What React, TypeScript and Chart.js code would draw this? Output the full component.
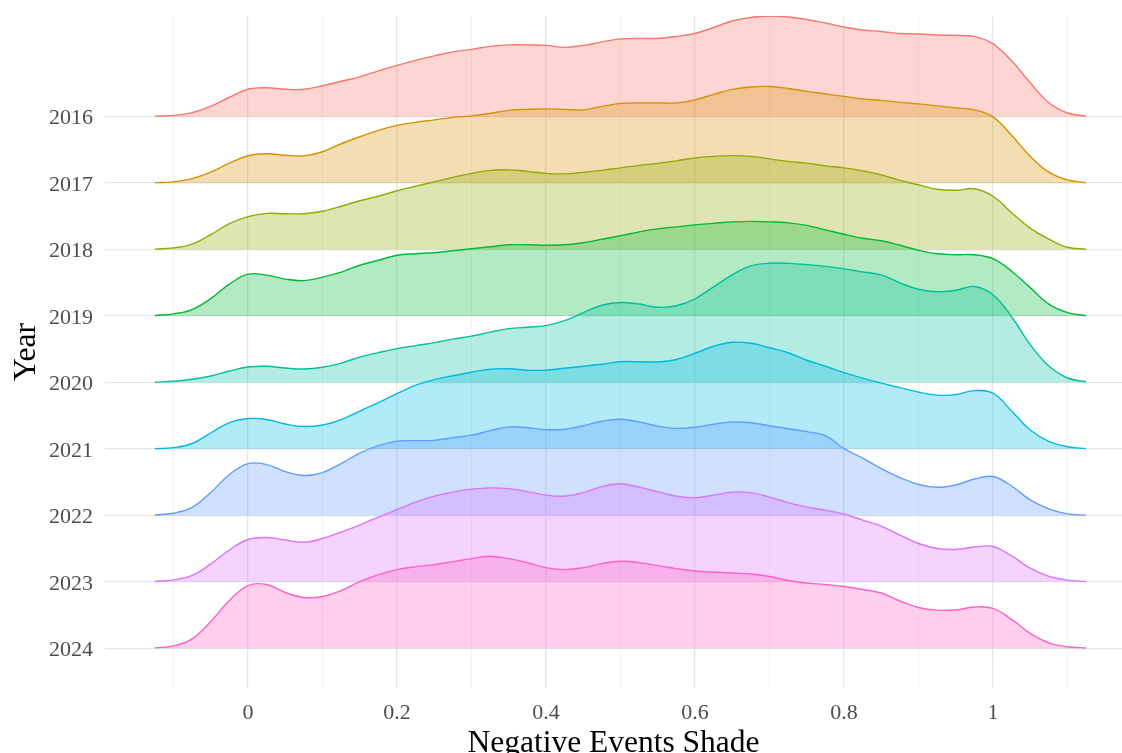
import React, { useEffect, useRef } from "react";
import { Chart, registerables } from "chart.js";

Chart.register(...registerables);

const YEARS = [2016, 2017, 2018, 2019, 2020, 2021, 2022, 2023, 2024];

const XS = [
  -0.125, -0.1, -0.075, -0.05, -0.025, 0, 0.025, 0.05, 0.075, 0.1,
  0.125, 0.15, 0.175, 0.2, 0.225, 0.25, 0.275, 0.3, 0.325, 0.35,
  0.375, 0.4, 0.425, 0.45, 0.475, 0.5, 0.525, 0.55, 0.575, 0.6,
  0.625, 0.65, 0.675, 0.7, 0.725, 0.75, 0.775, 0.8, 0.825, 0.85,
  0.875, 0.9, 0.925, 0.95, 0.975, 1.0, 1.025, 1.05, 1.075, 1.1, 1.125,
];

const D2016 = [
  0.005, 0.013, 0.04, 0.105, 0.195, 0.275, 0.29, 0.275, 0.275, 0.31,
  0.355, 0.4, 0.46, 0.515, 0.565, 0.61, 0.65, 0.675, 0.705, 0.72,
  0.72, 0.715, 0.695, 0.715, 0.75, 0.78, 0.785, 0.785, 0.805, 0.835,
  0.895, 0.96, 0.995, 1.01, 1.0, 0.975, 0.94, 0.9, 0.87, 0.855,
  0.835, 0.83, 0.82, 0.815, 0.805, 0.73, 0.56, 0.34, 0.14, 0.037, 0.005,
];
const D2017 = [
  0.005, 0.013, 0.045, 0.11, 0.2, 0.275, 0.295, 0.28, 0.275, 0.315,
  0.395, 0.465, 0.53, 0.58, 0.61, 0.635, 0.66, 0.675, 0.7, 0.73,
  0.74, 0.745, 0.74, 0.735, 0.77, 0.8, 0.805, 0.805, 0.805, 0.835,
  0.89, 0.94, 0.965, 0.97, 0.95, 0.92, 0.895, 0.87, 0.845, 0.83,
  0.81, 0.795, 0.775, 0.755, 0.735, 0.665, 0.48, 0.27, 0.11, 0.032, 0.005,
];
const D2018 = [
  0.005, 0.017, 0.055, 0.15, 0.26, 0.33, 0.363, 0.36, 0.36, 0.385,
  0.435, 0.49, 0.535, 0.59, 0.635, 0.68, 0.725, 0.765, 0.795, 0.8,
  0.785, 0.765, 0.76, 0.775, 0.795, 0.82, 0.845, 0.865, 0.89, 0.92,
  0.935, 0.943, 0.935, 0.91, 0.885, 0.867, 0.84, 0.82, 0.79, 0.75,
  0.695, 0.65, 0.605, 0.595, 0.61, 0.535, 0.37, 0.215, 0.105, 0.023, 0.005,
];
const D2019 = [
  0.005, 0.022, 0.065, 0.175, 0.32, 0.42, 0.41, 0.37, 0.355, 0.39,
  0.44, 0.51, 0.56, 0.61, 0.625, 0.635, 0.655, 0.675, 0.695, 0.715,
  0.715, 0.71, 0.715, 0.735, 0.77, 0.805, 0.845, 0.875, 0.895, 0.915,
  0.93, 0.945, 0.95, 0.945, 0.935, 0.91, 0.865, 0.82, 0.78, 0.755,
  0.71, 0.66, 0.625, 0.615, 0.615, 0.575, 0.45, 0.285, 0.12, 0.035, 0.005,
];
const D2020 = [
  0.003, 0.013, 0.032, 0.065, 0.115, 0.155, 0.163, 0.145, 0.135, 0.153,
  0.195, 0.255, 0.3, 0.34, 0.37, 0.4, 0.435, 0.465, 0.505, 0.54,
  0.555, 0.57, 0.62, 0.7, 0.775, 0.803, 0.787, 0.755, 0.77, 0.84,
  0.96, 1.08, 1.17, 1.197, 1.195, 1.183, 1.165, 1.14, 1.11, 1.08,
  1.0, 0.935, 0.91, 0.925, 0.963, 0.88, 0.66, 0.38, 0.165, 0.045, 0.007,
];
const D2021 = [
  0.003, 0.013, 0.055, 0.16, 0.265, 0.305, 0.295, 0.25, 0.225, 0.24,
  0.295, 0.38, 0.465, 0.555, 0.64, 0.695, 0.735, 0.77, 0.8, 0.805,
  0.79, 0.79, 0.81, 0.83, 0.85, 0.875, 0.875, 0.873, 0.897, 0.96,
  1.03, 1.07, 1.06, 1.015, 0.965, 0.89, 0.83, 0.765, 0.71, 0.66,
  0.615, 0.57, 0.54, 0.545, 0.585, 0.56, 0.38, 0.19, 0.075, 0.022, 0.003,
];
const D2022 = [
  0.004, 0.022, 0.08, 0.23, 0.41, 0.52, 0.51, 0.44, 0.4, 0.43,
  0.52, 0.625, 0.7, 0.745, 0.75, 0.753, 0.78, 0.805, 0.85, 0.888,
  0.88, 0.86, 0.865, 0.9, 0.945, 0.965, 0.938, 0.895, 0.873, 0.885,
  0.915, 0.938, 0.93, 0.9, 0.87, 0.84, 0.8, 0.67, 0.575, 0.47,
  0.38, 0.31, 0.282, 0.305, 0.365, 0.39, 0.295, 0.155, 0.065, 0.015, 0.003,
];
const D2023 = [
  0.004, 0.02, 0.065, 0.18, 0.32, 0.425, 0.445, 0.42, 0.397, 0.435,
  0.5, 0.57, 0.65, 0.725, 0.8, 0.86, 0.9, 0.93, 0.943, 0.935,
  0.905, 0.87, 0.86, 0.895, 0.955, 0.985, 0.95, 0.905, 0.86, 0.843,
  0.87, 0.9, 0.895, 0.85, 0.795, 0.75, 0.72, 0.68, 0.62, 0.56,
  0.47, 0.385, 0.335, 0.325, 0.35, 0.355, 0.26, 0.137, 0.055, 0.018, 0.003,
];
const D2024 = [
  0.005, 0.023, 0.095, 0.27, 0.48, 0.63, 0.64, 0.56, 0.51, 0.52,
  0.58, 0.67, 0.74, 0.79, 0.82, 0.84, 0.87, 0.9, 0.923, 0.9,
  0.86, 0.81, 0.79, 0.81, 0.85, 0.873, 0.86, 0.83, 0.8, 0.775,
  0.765, 0.755, 0.745, 0.72, 0.68, 0.655, 0.64, 0.62, 0.59, 0.555,
  0.475, 0.41, 0.383, 0.385, 0.415, 0.4, 0.29, 0.15, 0.055, 0.016, 0.003,
];

const DENSITIES = [D2016, D2017, D2018, D2019, D2020, D2021, D2022, D2023, D2024];

const COLORS = [
  "#F8766D", "#D39200", "#93AA00", "#00BA38", "#00C19F",
  "#00B9E3", "#619CFF", "#DB72FB", "#FF61C3",
];

const X_TICKS = [-0.1, 0, 0.1, 0.2, 0.3, 0.4, 0.5, 0.6, 0.7, 0.8, 0.9, 1, 1.1];
const X_LABELS = ["", "0", "", "0.2", "", "0.4", "", "0.6", "", "0.8", "", "1", ""];

const RIDGE_SCALE = 1.5;
const FILL_ALPHA = 0.3;

function withAlpha(hex: string, a: number): string {
  const r = parseInt(hex.slice(1, 3), 16);
  const g = parseInt(hex.slice(3, 5), 16);
  const b = parseInt(hex.slice(5, 7), 16);
  return `rgba(${r},${g},${b},${a})`;
}

export default function App() {
  const ref = useRef<HTMLCanvasElement>(null);

  useEffect(() => {
    if (!ref.current) return;
    const n = YEARS.length;
    const serif = "'Liberation Serif', 'DejaVu Serif', serif";
    Chart.defaults.font.family = serif;

    const datasets = YEARS.map((year, i) => {
      const base = n - 1 - i;
      return {
        label: String(year),
        data: XS.map((x, j) => ({ x, y: base + DENSITIES[i][j] * RIDGE_SCALE })),
        borderColor: COLORS[i],
        backgroundColor: withAlpha(COLORS[i], FILL_ALPHA),
        borderWidth: 1.4,
        pointRadius: 0,
        pointHoverRadius: 0,
        fill: { value: base },
        tension: 0.4,
        order: base,
      };
    });

    const isMajorX = (v: number) => Math.round(v * 10) % 2 === 0;

    const chart = new Chart(ref.current, {
      type: "line",
      data: { datasets: datasets as any },
      options: {
        animation: false,
        responsive: false,
        devicePixelRatio: 1,
        layout: { padding: { top: 16, right: 0, bottom: 0, left: 0 } },
        plugins: {
          legend: { display: false },
          tooltip: { enabled: false },
        },
        scales: {
          x: {
            type: "linear",
            min: -0.192,
            max: 1.1732,
            afterBuildTicks: (s: any) => {
              s.ticks = X_TICKS.map((v) => ({ value: v }));
            },
            afterFit: (s: any) => {
              s.height = 65;
              s.paddingLeft = 0;
              s.paddingRight = 0;
            },
            ticks: {
              autoSkip: false,
              maxRotation: 0,
              padding: 12,
              color: "#4D4D4D",
              font: { size: 22, family: serif },
              callback: (_v: any, idx: number) => X_LABELS[idx],
            },
            grid: {
              drawTicks: false,
              color: (ctx: any) => (isMajorX(ctx.tick.value) ? "#e6e6e6" : "#eeeeee"),
              lineWidth: (ctx: any) => (isMajorX(ctx.tick.value) ? 1.3 : 0.8),
            },
            border: { display: false },
            title: {
              display: true,
              text: "Negative Events Shade",
              color: "#000000",
              font: { size: 31.5, family: serif, lineHeight: 1 },
              padding: { top: 0, bottom: -6 },
            },
          },
          y: {
            type: "linear",
            min: -0.597,
            max: 9.515,
            afterBuildTicks: (s: any) => {
              s.ticks = YEARS.map((_, i) => ({ value: i }));
            },
            afterFit: (s: any) => {
              s.width = 105;
              s.paddingTop = 0;
              s.paddingBottom = 0;
            },
            ticks: {
              autoSkip: false,
              padding: 12,
              labelOffset: 2,
              color: "#4D4D4D",
              font: { size: 22, family: serif },
              callback: (v: any) => String(YEARS[n - 1 - Number(v)]),
            },
            grid: {
              drawTicks: false,
              color: "#e6e6e6",
              lineWidth: 1.3,
            },
            border: { display: false },
            title: {
              display: true,
              text: "Year",
              color: "#000000",
              font: { size: 31.5, family: serif, lineHeight: 1 },
              padding: { top: 11, bottom: 0 },
            },
          },
        },
      },
    });

    return () => chart.destroy();
  }, []);

  return (
    <div
      style={{
        position: "fixed",
        left: 0,
        top: 0,
        width: 1122,
        height: 753,
        background: "#ffffff",
        overflow: "hidden",
      }}
    >
      <canvas ref={ref} width={1122} height={753} style={{ display: "block" }} />
    </div>
  );
}
